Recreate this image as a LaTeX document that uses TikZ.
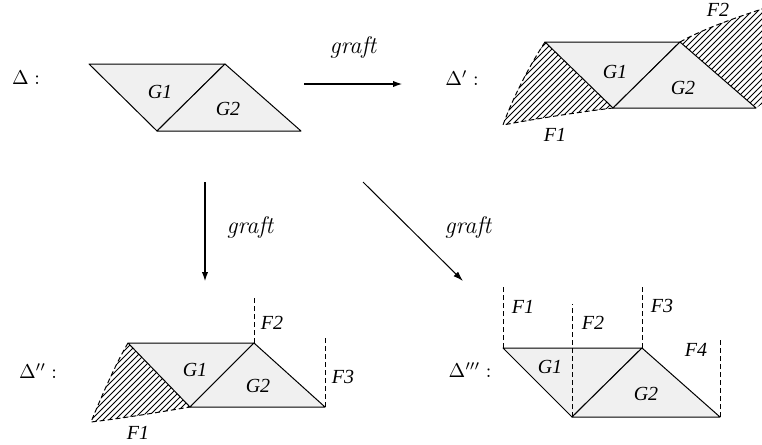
\documentclass[tikz,border=0pt]{standalone}
\usepackage{fontspec}
\newfontfamily\labfont{Liberation Serif}
\usetikzlibrary{arrows.meta,patterns}

\begin{document}
\begin{tikzpicture}[x=0.5pt,y=-0.5pt,
  tri/.style={draw, line width=0.5pt, fill=gray!12, line join=round},
  hatch/.style={pattern=north east lines},
  fdash/.style={dashed, dash pattern=on 2.5pt off 1.5pt, line width=0.5pt},
  lab/.style={font=\labfont\itshape},
  glab/.style={font=\fontsize{12}{14}\selectfont\itshape},
  arrow/.style={-{Latex[length=5pt,width=3.2pt]}, line width=1pt}
]
\clip (0,0) rectangle (762,445);

% corners of the four complexes
\coordinate (a1) at (89,64);   \coordinate (a2) at (225,64);
\coordinate (a3) at (157,131); \coordinate (a4) at (301,131);
\coordinate (b1) at (545,42);  \coordinate (b2) at (680,42);
\coordinate (b3) at (613,108); \coordinate (b4) at (756,108);
\coordinate (c1) at (128,343); \coordinate (c2) at (254,343);
\coordinate (c3) at (190,407); \coordinate (c4) at (325,407);
\coordinate (d1) at (503,348); \coordinate (d2) at (642,348);
\coordinate (d3) at (572,417); \coordinate (d4) at (720,417);

% free ends of the grafted faces
\coordinate (bf1) at (503,125); \coordinate (bf2) at (768,7);
\coordinate (cf1) at (91,422);
\coordinate (cf2) at (254,298); \coordinate (cf3) at (325,337);
\coordinate (df1) at (503,285); \coordinate (df2) at (572,304);
\coordinate (df3) at (642,285); \coordinate (df4) at (720,340);

% hatched faces
\fill[hatch] (b1) .. controls (528,68) and (512,100) .. (bf1)
  .. controls (540,118) and (580,112) .. (b3) -- cycle;
\fill[hatch] (b2) .. controls (705,28) and (738,17) .. (bf2) -- (768,100) -- (b4) -- cycle;
\fill[hatch] (c1) .. controls (115,365) and (100,400) .. (cf1)
  .. controls (125,418) and (160,412) .. (c3) -- cycle;

% triangles
\path[tri] (a1) -- (a2) -- (a3) -- cycle;
\path[tri] (a2) -- (a4) -- (a3) -- cycle;
\path[tri] (b1) -- (b2) -- (b3) -- cycle;
\path[tri] (b2) -- (b4) -- (b3) -- cycle;
\path[tri] (c1) -- (c2) -- (c3) -- cycle;
\path[tri] (c2) -- (c4) -- (c3) -- cycle;
\path[tri] (d1) -- (d2) -- (d3) -- cycle;
\path[tri] (d2) -- (d4) -- (d3) -- cycle;

% dashed borders
\draw[fdash] (b1) .. controls (528,68) and (512,100) .. (bf1)
  .. controls (540,118) and (580,112) .. (b3);
\draw[fdash] (b2) .. controls (705,28) and (738,17) .. (bf2);
\draw[fdash] (c1) .. controls (115,365) and (100,400) .. (cf1)
  .. controls (125,418) and (160,412) .. (c3);
\draw[fdash] (c2) -- (cf2);
\draw[fdash] (c4) -- (cf3);
\draw[fdash] (d1) -- (df1);
\draw[fdash] (d3) -- (df2);
\draw[fdash] (d2) -- (df3);
\draw[fdash] (d4) -- (df4);

% names
\node (delta)  at (26,78)  {$\Delta :$};
\node (delta1) at (462,78) {$\Delta' :$};
\node (delta2) at (38,371) {$\Delta'' :$};
\node (delta3) at (470,370) {$\Delta''' :$};

\node[lab] (ag1) at (160,92)  {G1};
\node[lab] (ag2) at (228,109) {G2};
\node[lab] (bg1) at (615,72)  {G1};
\node[lab] (bg2) at (683,88)  {G2};
\node[lab] (bF1) at (555,135) {F1};
\node[lab] (bF2) at (718,10)  {F2};
\node[lab] (cg1) at (195,370) {G1};
\node[lab] (cg2) at (258,386) {G2};
\node[lab] (cF1) at (138,433) {F1};
\node[lab] (cF2) at (272,323) {F2};
\node[lab] (cF3) at (343,377) {F3};
\node[lab] (dg1) at (550,367) {G1};
\node[lab] (dg2) at (646,394) {G2};
\node[lab] (dF1) at (523,307) {F1};
\node[lab] (dF2) at (593,323) {F2};
\node[lab] (dF3) at (662,306) {F3};
\node[lab] (dF4) at (696,350) {F4};

% graft arrows
\coordinate (h0) at (304,84);  \coordinate (h1) at (403,84);
\coordinate (v0) at (205,182); \coordinate (v1) at (205,282);
\coordinate (s0) at (363,182); \coordinate (s1) at (463,281);
\draw[arrow] (h0) -- (h1);
\draw[arrow] (v0) -- (v1);
\draw[arrow, line width=0.5pt] (s0) -- (s1);
\node[glab] (gh) at (353,47)  {graft};
\node[glab] (gv) at (250,227) {graft};
\node[glab] (gs) at (468,227) {graft};
\end{tikzpicture}
\end{document}
